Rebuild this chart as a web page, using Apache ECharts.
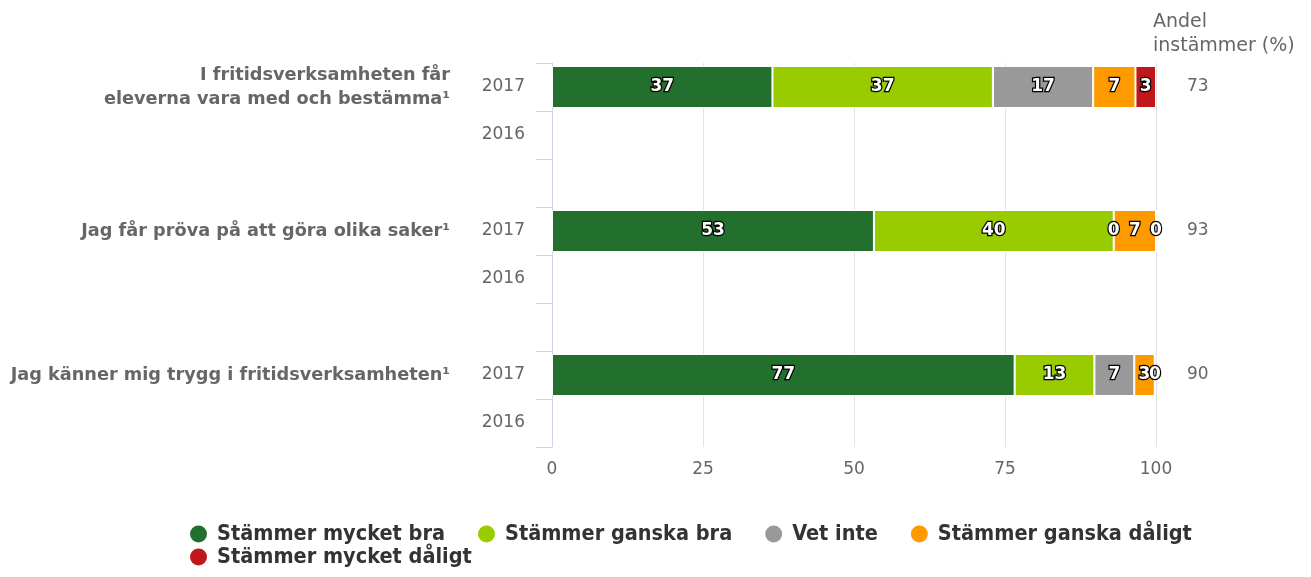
<!DOCTYPE html>
<html>
<head>
<meta charset="utf-8">
<script src="https://cdn.jsdelivr.net/npm/echarts@6/dist/echarts.min.js"></script>
<style>
  html, body { margin: 0; padding: 0; background: #fff; }
  #chart { width: 1311px; height: 577px; }
</style>
</head>
<body>
<div id="chart"></div>
<script>
// rows on the category axis, blank slots separate the questions
const years = ["2017", "2016", "", "2017", "2016", "", "2017", "2016"];
const questions = [
  "I fritidsverksamheten får\neleverna vara med och bestämma¹",
  "Jag får pröva på att göra olika saker¹",
  "Jag känner mig trygg i fritidsverksamheten¹"
];
const agreeShare = [73, 93, 90];
const xTicks = [0, 25, 50, 75, 100];

// 2017 values per question (2016 has no data)
const mycketBra = [36.5, 53.3, 76.6];
const ganskaBra = [36.5, 39.7, 13.2];
const vetInte = [16.6, 0, 6.6];
const ganskaDaligt = [7.0, 7.0, 3.4];
const mycketDaligt = [3.4, 0, 0];

const seriesNames = ["Stämmer mycket bra", "Stämmer ganska bra", "Vet inte", "Stämmer ganska dåligt", "Stämmer mycket dåligt"];
const colors = ["#236f2d", "#99cc00", "#999999", "#ff9900", "#c0171b"];

// spread three values onto the 8 rows (2017 rows are 0, 3, 6)
function toRows(vals) {
  const out = years.map(() => "-");
  vals.forEach((v, i) => { out[i * 3] = v; });
  return out;
}
const questionRows = years.map(() => "");
questions.forEach((q, i) => { questionRows[i * 3] = q; });
const shareRows = years.map(() => "");
agreeShare.forEach((v, i) => { shareRows[i * 3] = String(v); });

const chart = echarts.init(document.getElementById("chart"));
const allVals = [mycketBra, ganskaBra, vetInte, ganskaDaligt, mycketDaligt];

const legendText = {
  fontSize: 21.5,
  fontWeight: "bold",
  color: "#333",
  fontFamily: "DejaVu Sans Condensed"
};

const option = {
  animation: false,
  color: colors,
  grid: { left: 552, right: 155, top: 63, bottom: 130 },
  xAxis: {
    type: "value",
    min: 0,
    max: 100,
    interval: 25,
    axisLine: { show: false },
    axisTick: { show: false },
    splitLine: { lineStyle: { color: "#e3e3e3" } },
    axisLabel: {
      margin: 14,
      color: "#666",
      fontSize: 17,
      fontFamily: "DejaVu Sans",
      formatter: v => xTicks.includes(v) ? String(v) : ""
    }
  },
  yAxis: [
    {
      type: "category",
      data: years,
      inverse: true,
      axisLine: { show: true, lineStyle: { color: "#ccd6eb" } },
      axisTick: { show: true, interval: 0, length: 16, lineStyle: { color: "#ccd6eb" } },
      axisLabel: { interval: 0, margin: 27, color: "#666", fontSize: 17, fontFamily: "DejaVu Sans" }
    },
    {
      type: "category",
      data: questionRows,
      inverse: true,
      position: "left",
      axisLine: { show: false },
      axisTick: { show: false },
      axisLabel: {
        interval: 0,
        margin: 102,
        color: "#666",
        fontSize: 17.7,
        fontWeight: "bold",
        fontFamily: "DejaVu Sans",
        lineHeight: 24,
        padding: [6, 0, 0, 0],
        align: "right"
      }
    },
    {
      type: "category",
      data: shareRows,
      inverse: true,
      position: "right",
      axisLine: { show: false },
      axisTick: { show: false },
      axisLabel: { interval: 0, margin: 31, color: "#666", fontSize: 17, fontFamily: "DejaVu Sans" }
    }
  ],
  legend: [
    {
      left: 183,
      top: 518,
      itemWidth: 27,
      itemHeight: 19,
      itemGap: 31,
      icon: "circle",
      textStyle: legendText,
      data: seriesNames.slice(0, 4)
    },
    {
      left: 183,
      top: 541,
      itemWidth: 27,
      itemHeight: 19,
      icon: "circle",
      textStyle: legendText,
      data: seriesNames.slice(4)
    }
  ],
  graphic: [{
    type: "text",
    left: 1153,
    top: 10,
    style: {
      text: "Andel\ninstämmer (%)",
      fill: "#666",
      fontSize: 19,
      lineHeight: 24,
      fontFamily: "DejaVu Sans"
    }
  }],
  series: seriesNames.map((name, i) => ({
    name: name,
    type: "bar",
    stack: "total",
    barWidth: 42,
    data: toRows(allVals[i]),
    itemStyle: { borderColor: "#fff", borderWidth: 1 },
    label: {
      show: true,
      position: "inside",
      formatter: p => String(Math.round(p.value)),
      color: "#fff",
      fontSize: 17,
      fontWeight: "bold",
      fontFamily: "DejaVu Sans",
      textBorderColor: "#000",
      textBorderWidth: 2.5
    }
  }))
};

option && chart.setOption(option);
</script>
</body>
</html>
